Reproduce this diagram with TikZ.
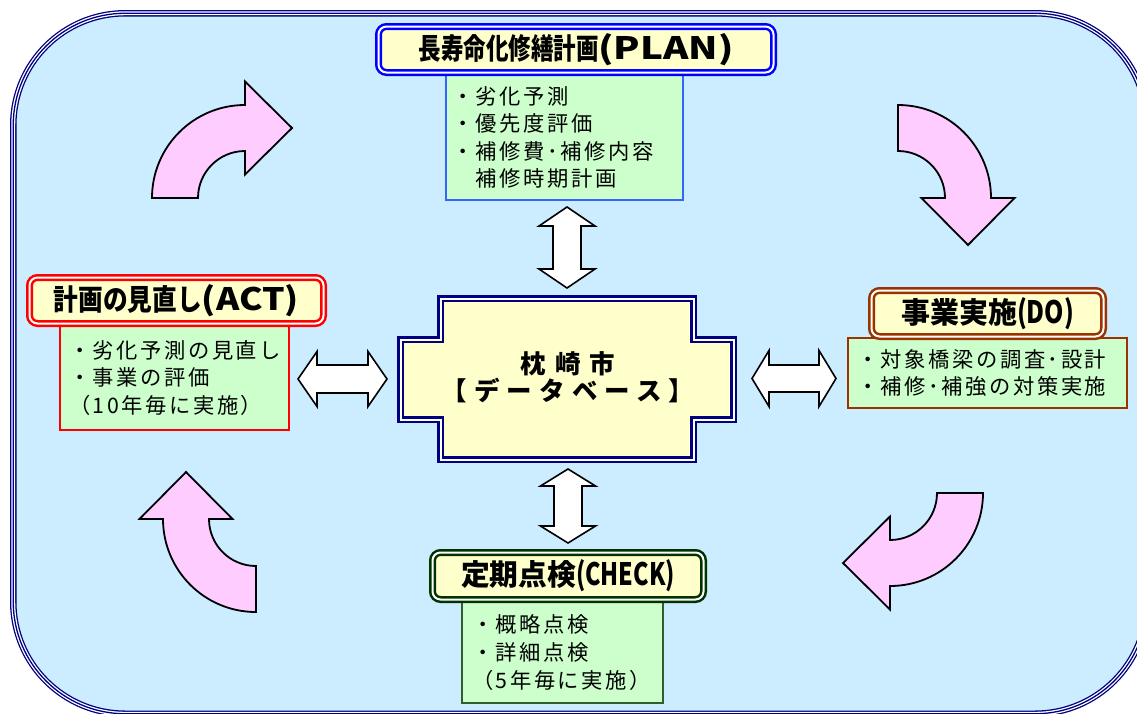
\documentclass[tikz,border=0pt]{standalone}
\usepackage{fontspec}
\usepackage{graphicx}
\newfontfamily\jp{Noto Sans CJK JP}
\newfontfamily\jpls{Noto Sans CJK JP}[LetterSpace=12]
\newfontfamily\jpcA{Noto Sans CJK JP}[LetterSpace=36]
\newfontfamily\jpcB{Noto Sans CJK JP}[LetterSpace=28]
\definecolor{bgc}{HTML}{CCECFF}
\definecolor{yel}{HTML}{FFFFCC}
\definecolor{grn}{HTML}{CCFFCC}
\definecolor{pnk}{HTML}{FFCCFF}
\definecolor{nvy}{HTML}{000080}
\definecolor{blu}{HTML}{0000FF}
\definecolor{blu2}{HTML}{3366FF}
\definecolor{rd}{HTML}{FF0000}
\definecolor{brn}{HTML}{993300}
\definecolor{dgr}{HTML}{003300}
\definecolor{dgr2}{HTML}{2F5F2F}
\newcommand\tparts[4]{\resizebox{#1pt}{25pt}{#2}\resizebox{#3pt}{26pt}{#4}}
\newcommand\nolsk{\lineskiplimit=-20pt\relax}
\begin{document}
\begin{tikzpicture}[x=1pt,y=-1pt,
  ttl/.style={rounded corners=8pt, fill=yel, double=white, double distance=2pt,
    line width=2.5pt, inner sep=0pt, outer sep=0pt, anchor=north west,
    font=\jp\bfseries\fontsize{24}{26}\selectfont},
  bodybox/.style={fill=grn, line width=1.8pt, anchor=north west, align=left,
    inner ysep=0pt, outer sep=0pt, font=\jpls\fontsize{21.3}{27.6}\selectfont\nolsk},
  curv/.style={fill=pnk, draw=black, line width=1.8pt, line join=miter},
  blk/.style={fill=white, draw=black, line width=1.6pt, line join=miter},
  frm/.style={rounded corners=112pt}]
\useasboundingbox (0,0) rectangle (1137,713);
\clip (0,0) rectangle (1137,713);
% outer frame
\path[fill=bgc, frm] (13.25,13.25) rectangle (1147,713.75);
\draw[nvy, line width=6.5pt, frm] (13.25,13.25) rectangle (1147,713.75);
\draw[white, line width=3.9pt, frm] (13.25,13.25) rectangle (1147,713.75);
\draw[nvy, line width=1.3pt, frm] (13.25,13.25) rectangle (1147,713.75);

% curved arrows
\draw[curv] (152,198) arc[start angle=180, end angle=270, radius=93] -- (245,81.5) -- (292,128) -- (245,174.5) -- (245,151) arc[start angle=270, end angle=180, radius=47] -- cycle;
\draw[curv] (898,105) arc[start angle=270, end angle=360, radius=93] -- (1014.5,198) -- (968,245) -- (921.5,198) -- (945,198) arc[start angle=0, end angle=-90, radius=47] -- cycle;
\draw[curv] (983,493) arc[start angle=0, end angle=90, radius=93] -- (890,609.5) -- (843,563) -- (890,516.5) -- (890,540) arc[start angle=90, end angle=0, radius=47] -- cycle;
\draw[curv] (256,612) arc[start angle=90, end angle=180, radius=93] -- (139.5,519) -- (186,472) -- (232.5,519) -- (209,519) arc[start angle=180, end angle=90, radius=47] -- cycle;

% double block arrows
\draw[blk] (567,207) -- (595,226) -- (581,226) -- (581,269) -- (595,269) -- (567,288) -- (539,269) -- (553,269) -- (553,226) -- (539,226) -- cycle;
\draw[blk] (568,469) -- (595.5,486) -- (582,486) -- (582,526) -- (595.5,526) -- (568,543) -- (540.5,526) -- (554,526) -- (554,486) -- (540.5,486) -- cycle;
\draw[blk] (298,379) -- (317,351.5) -- (317,365) -- (368,365) -- (368,351.5) -- (387,379) -- (368,406.5) -- (368,393) -- (317,393) -- (317,406.5) -- cycle;
\draw[blk] (752,378.5) -- (769,350.5) -- (769,365) -- (819,365) -- (819,350.5) -- (836,378.5) -- (819,406.5) -- (819,392) -- (769,392) -- (769,406.5) -- cycle;

% database
\draw[nvy, line width=7pt, fill=yel] (440.5,298.5) -- (693.5,298.5) -- (693.5,339.5) -- (733.5,339.5) -- (733.5,419.5) -- (693.5,419.5) -- (693.5,459.5) -- (440.5,459.5) -- (440.5,419.5) -- (400.5,419.5) -- (400.5,339.5) -- (440.5,339.5) -- cycle;
\draw[white, line width=2pt] (440.5,298.5) -- (693.5,298.5) -- (693.5,339.5) -- (733.5,339.5) -- (733.5,419.5) -- (693.5,419.5) -- (693.5,459.5) -- (440.5,459.5) -- (440.5,419.5) -- (400.5,419.5) -- (400.5,339.5) -- (440.5,339.5) -- cycle;
\node[align=center, inner sep=0pt, font=\jp\bfseries\fontsize{25.5}{26.5}\selectfont\nolsk] (db) at (568,377) {{\jpcA 枕崎市}\\{\jpcB 【データベース】}};

% PLAN
\node[bodybox, draw=blu2, minimum width=237pt, minimum height=125pt, text width=225pt, inner xsep=6pt] (planB) at (446,75) {・劣化予測\\・優先度評価\\・補修費･補修内容\\　補修時期計画};
\node[ttl, draw=blu, minimum width=395pt, minimum height=46pt] (planT) at (378.5,26.5) {\tparts{180}{長寿命化修繕計画}{135}{(PLAN)}};

% ACT
\node[bodybox, draw=rd, minimum width=229pt, minimum height=104pt, text width=211pt, inner xsep=9pt] (actB) at (60,326) {・劣化予測の見直し\\・事業の評価\\（10年毎に実施）};
\node[ttl, draw=rd, minimum width=294pt, minimum height=46pt] (actT) at (29.5,277.5) {\tparts{148}{計画の見直し}{97}{(ACT)}};

% DO
\node[bodybox, draw=brn, minimum width=279pt, minimum height=70pt, text width=261pt, inner xsep=9pt] (doB) at (848,338) {・対象橋梁の調査･設計\\・補修･補強の対策実施};
\node[ttl, draw=brn, minimum width=232pt, minimum height=46pt] (doT) at (871.5,290.5) {\tparts{116}{事業実施}{57}{(DO)}};

% CHECK
\node[bodybox, draw=dgr2, minimum width=201pt, minimum height=101pt, text width=181pt, inner xsep=10pt] (chkB) at (462,602) {・概略点検\\・詳細点検\\（5年毎に実施）};
\node[ttl, draw=dgr, minimum width=271pt, minimum height=47pt] (chkT) at (432.5,552.5) {\tparts{115}{定期点検}{99}{(CHECK)}};
\end{tikzpicture}
\end{document}
